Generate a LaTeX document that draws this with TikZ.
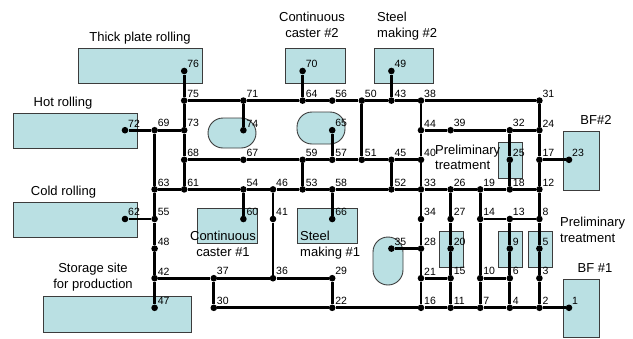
\documentclass[tikz,border=0pt]{standalone}
\usepackage{fontspec}
\setmainfont{Liberation Sans}
\usepackage{tikz}
\usetikzlibrary{fit}
\definecolor{boxfill}{RGB}{186,224,227}
\definecolor{boxline}{RGB}{60,60,60}

\begin{document}
\begin{tikzpicture}[x=1pt,y=-1pt,
  jn/.style={circle,fill=black,inner sep=0pt,minimum size=6.6pt},
  num/.style={font=\fontsize{10.5}{12}\selectfont,inner sep=0.5pt},
  wire/.style={line width=2.7pt},
  unit/.style={draw=boxline,fill=boxfill,line width=0.9pt,inner sep=0pt},
  vessel/.style={unit,rounded corners=15pt},
  tag/.style={font=\fontsize{13}{16}\selectfont,inner sep=0pt}]
%Raster der Knoten: Spalten 0..15, Zeilen 0..8
  \pgfmathsetmacro{\gap}{29.6}
  \pgfmathsetmacro{\xnull}{125}
  \pgfmathsetmacro{\ynull}{71}
\useasboundingbox (0,0) rectangle (633,338);
%Anlagen
\node[unit,fit={(78,48)(202,83)}] (thick) {};
\node[unit,fit={(13,113)(137,148)}] (hot) {};
\node[unit,fit={(13,202)(137,237)}] (cold) {};
\node[unit,fit={(43,296)(191,332)}] (store) {};
\node[unit,fit={(285,48)(345,83)}] (cctwo) {};
\node[unit,fit={(374,48)(433,83)}] (smtwo) {};
\node[unit,fit={(563,131)(599,190)}] (bftwo) {};
\node[unit,fit={(563,279)(599,337)}] (bfone) {};
\node[unit,fit={(498,142)(522,178)}] (ptA) {};
\node[unit,fit={(439,231)(463,267)}] (ptB) {};
\node[unit,fit={(498,231)(522,267)}] (ptC) {};
\node[unit,fit={(528,231)(552,267)}] (ptD) {};
\node[unit,fit={(197,208)(257,243)}] (ccone) {};
\node[unit,fit={(297,208)(357,243)}] (smone) {};
\node[vessel,fit={(208,118)(256,148)}] (vesA) {};
\node[vessel,fit={(297,112)(345,144)}] (vesB) {};
\node[vessel,fit={(373,237)(403,285)}] (vesC) {};
%Knoten
\foreach \n/\c/\r in {76/2/0,70/6/0,49/9/0,
  75/2/1,71/4/1,64/6/1,56/7/1,50/8/1,43/9/1,38/10/1,31/14/1,
  72/0/2,69/1/2,73/2/2,74/4/2,65/7/2,44/10/2,39/11/2,32/13/2,24/14/2,
  68/2/3,67/4/3,59/6/3,57/7/3,51/8/3,45/9/3,40/10/3,25/13/3,17/14/3,23/15/3,
  63/1/4,61/2/4,54/4/4,46/5/4,53/6/4,58/7/4,52/9/4,33/10/4,26/11/4,19/12/4,18/13/4,12/14/4,
  62/0/5,55/1/5,60/4/5,41/5/5,66/7/5,34/10/5,27/11/5,14/12/5,13/13/5,8/14/5,
  48/1/6,35/9/6,28/10/6,20/11/6,9/13/6,5/14/6,
  42/1/7,37/3/7,36/5/7,29/7/7,21/10/7,15/11/7,10/12/7,6/13/7,3/14/7,
  47/1/8,30/3/8,22/7/8,16/10/8,11/11/8,7/12/8,4/13/8,2/14/8,1/15/8}{
  \node[jn,label={[num]above right:\n}] (n\n) at ({\xnull+\gap*\c},{\ynull+\gap*\r}) {};
}
%waagrecht
\draw[wire] (n75)--(n71)--(n64)--(n56)--(n50)--(n43)--(n38)--(n31);
\draw[wire] (n72)--(n69)--(n73);
\draw[wire] (n44)--(n39)--(n32)--(n24);
\draw[wire] (n68)--(n67)--(n59)--(n57)--(n51)--(n45)--(n40);
\draw[wire] (n17)--(n23);
\draw[wire] (n63)--(n61)--(n54)--(n46)--(n53)--(n58)--(n52)--(n33)--(n26)--(n19)--(n18)--(n12);
\draw[wire] (n62)--(n55);
\draw[wire] (n14)--(n13)--(n8);
\draw[wire] (n35)--(n28);
\draw[wire] (n42)--(n37)--(n36)--(n29);
\draw[wire] (n21)--(n15);
\draw[wire] (n10)--(n6);
\draw[wire] (n30)--(n22)--(n16)--(n11)--(n7)--(n4)--(n2)--(n1);
%senkrecht
\draw[wire] (n69)--(n63)--(n55)--(n48)--(n42)--(n47);
\draw[wire] (n76)--(n75)--(n73)--(n68)--(n61);
\draw[wire] (n37)--(n30);
\draw[wire] (n71)--(n74);
\draw[wire] (n54)--(n60);
\draw[wire] (n46)--(n41)--(n36);
\draw[wire] (n70)--(n64);
\draw[wire] (n59)--(n53);
\draw[wire] (n65)--(n57);
\draw[wire] (n58)--(n66);
\draw[wire] (n29)--(n22);
\draw[wire] (n50)--(n51);
\draw[wire] (n49)--(n43);
\draw[wire] (n45)--(n52);
\draw[wire] (n38)--(n44)--(n40)--(n33)--(n34)--(n28)--(n21)--(n16);
\draw[wire] (n26)--(n27)--(n20)--(n15)--(n11);
\draw[wire] (n19)--(n14)--(n10)--(n7);
\draw[wire] (n32)--(n25)--(n18);
\draw[wire] (n13)--(n9)--(n6)--(n4);
\draw[wire] (n31)--(n24)--(n17)--(n12)--(n8)--(n5)--(n3)--(n2);
%Beschriftung
\node[tag,anchor=base] (tthick) at (140,41) {Thick plate rolling};
\node[tag,anchor=base] (thot) at (63,106) {Hot rolling};
\node[tag,anchor=base] (tcold) at (63.5,195) {Cold rolling};
\node[tag,anchor=base] (tstoreA) at (93,272) {Storage site};
\node[tag,anchor=base] (tstoreB) at (93,288) {for production};
\node[tag,anchor=base] (tcctwoA) at (312,21) {Continuous};
\node[tag,anchor=base] (tcctwoB) at (312,37) {caster \#2};
\node[tag,anchor=base west] (tsmtwoA) at (377,21) {Steel};
\node[tag,anchor=base west] (tsmtwoB) at (377,37) {making \#2};
\node[tag,anchor=base] (tbftwo) at (596,124) {BF\#2};
\node[tag,anchor=base west] (tptAa) at (435,154) {Preliminary};
\node[tag,anchor=base west] (tptAb) at (435,169) {treatment};
\node[tag,anchor=base west] (tptBa) at (560,226) {Preliminary};
\node[tag,anchor=base west] (tptBb) at (560,242) {treatment};
\node[tag,anchor=base] (tbfone) at (595,272) {BF \#1};
\node[tag,anchor=base] (tcconeA) at (223,240) {Continuous};
\node[tag,anchor=base] (tcconeB) at (223,256) {caster \#1};
\node[tag,anchor=base west] (tsmoneA) at (300,240) {Steel};
\node[tag,anchor=base west] (tsmoneB) at (300,256) {making \#1};
\end{tikzpicture}
\end{document}
